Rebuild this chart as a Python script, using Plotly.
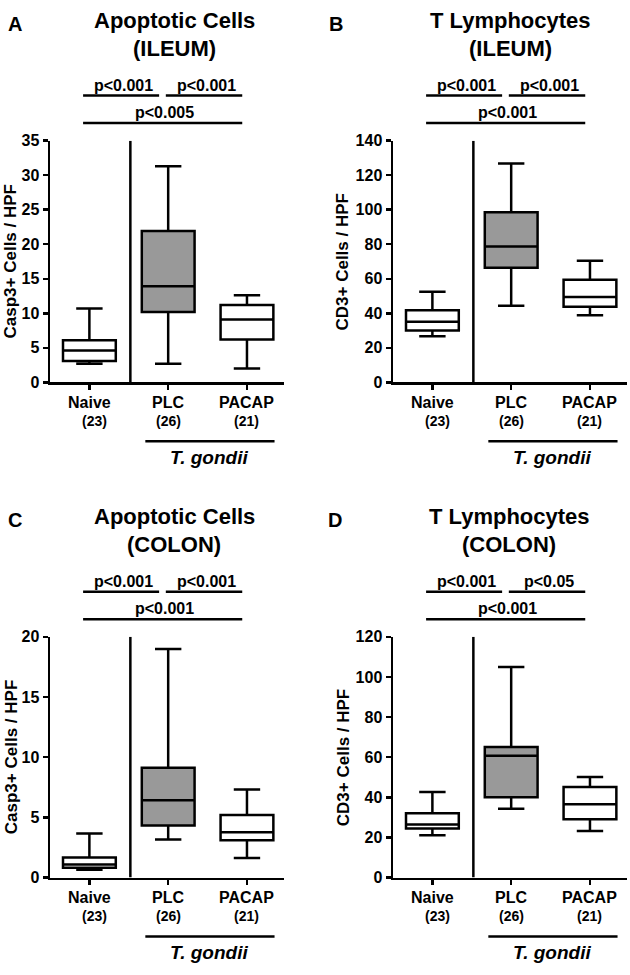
import plotly.graph_objects as go

# ---------------- data ----------------
categories = ["Naive", "PLC", "PACAP"]
group_sizes = ["(23)", "(26)", "(21)"]
x_pos = [0, 1, 2]
box_fill = ["white", "#999999", "white"]

# Panel A: Apoptotic cells (ileum)
a_low = [2.7, 2.7, 2.0]
a_q1 = [3.1, 10.2, 6.2]
a_med = [4.6, 13.9, 9.1]
a_q3 = [6.1, 21.9, 11.2]
a_high = [10.7, 31.3, 12.6]
a_p = ["p<0.001", "p<0.001", "p<0.005"]

# Panel B: T lymphocytes (ileum)
b_low = [26.7, 44.4, 38.9]
b_q1 = [30.0, 66.4, 43.8]
b_med = [35.1, 78.7, 49.5]
b_q3 = [41.7, 98.6, 59.4]
b_high = [52.5, 126.7, 70.4]
b_p = ["p<0.001", "p<0.001", "p<0.001"]

# Panel C: Apoptotic cells (colon)
c_low = [0.65, 3.16, 1.63]
c_q1 = [0.82, 4.33, 3.1]
c_med = [1.09, 6.42, 3.76]
c_q3 = [1.66, 9.12, 5.2]
c_high = [3.67, 19.0, 7.32]
c_p = ["p<0.001", "p<0.001", "p<0.001"]

# Panel D: T lymphocytes (colon)
d_low = [21.1, 34.3, 23.2]
d_q1 = [24.5, 40.0, 29.1]
d_med = [26.4, 60.7, 36.6]
d_q3 = [32.0, 65.1, 45.1]
d_high = [42.6, 105.0, 50.1]
d_p = ["p<0.001", "p<0.05", "p<0.001"]

# ---------------- layout helpers ----------------
W, H = 630, 975
FONT = "Liberation Sans, Arial, sans-serif"
LW = 2.5


def px(x):
    return x / W


def py(y):
    return 1 - y / H


panels = [
    dict(letter="A", t1="Apoptotic Cells", t2="(ILEUM)", ytitle="Casp3+ Cells / HPF",
         ymax=35, dtick=5, stats=(a_low, a_q1, a_med, a_q3, a_high), p=a_p,
         ax="", left=50, right=284, top=135, bottom=381, lx=15, tx=174, ytx=11),
    dict(letter="B", t1="T Lymphocytes", t2="(ILEUM)", ytitle="CD3+ Cells / HPF",
         ymax=140, dtick=20, stats=(b_low, b_q1, b_med, b_q3, b_high), p=b_p,
         ax="2", left=393, right=627, top=135, bottom=381, lx=336, tx=510, ytx=343),
    dict(letter="C", t1="Apoptotic Cells", t2="(COLON)", ytitle="Casp3+ Cells / HPF",
         ymax=20, dtick=5, stats=(c_low, c_q1, c_med, c_q3, c_high), p=c_p,
         ax="3", left=50, right=284, top=640, bottom=885, lx=15, tx=174, ytx=11),
    dict(letter="D", t1="T Lymphocytes", t2="(COLON)", ytitle="CD3+ Cells / HPF",
         ymax=120, dtick=20, stats=(d_low, d_q1, d_med, d_q3, d_high), p=d_p,
         ax="4", left=393, right=627, top=640, bottom=885, lx=335, tx=509, ytx=343),
]

fig = go.Figure()
annotations = []
shapes = []
layout_axes = {}

for pn in panels:
    ax = pn["ax"]
    xref = "x" + ax
    yref = "y" + ax
    low, q1, med, q3, high = pn["stats"]
    for i in range(3):
        fig.add_trace(go.Box(
            x=[x_pos[i]], q1=[q1[i]], median=[med[i]], q3=[q3[i]],
            lowerfence=[low[i]], upperfence=[high[i]],
            width=0.67, whiskerwidth=0.5, boxpoints=False,
            fillcolor=box_fill[i], line=dict(color="black", width=LW),
            xaxis=xref, yaxis=yref, showlegend=False, hoverinfo="skip",
        ))

    layout_axes["xaxis" + ax] = dict(
        domain=[px(pn["left"]), px(pn["right"])], anchor=yref,
        range=[-0.5, 2.47], tickvals=x_pos, ticktext=["", "", ""],
        ticks="outside", ticklen=5, tickwidth=LW, tickcolor="black",
        showline=True, linecolor="black", linewidth=LW,
        showgrid=False, zeroline=False, fixedrange=True,
    )
    layout_axes["yaxis" + ax] = dict(
        domain=[py(pn["bottom"]), py(pn["top"])], anchor=xref,
        range=[0, pn["ymax"]], dtick=pn["dtick"], tick0=0,
        ticks="outside", ticklen=5, tickwidth=LW, tickcolor="black",
        showline=True, linecolor="black", linewidth=LW,
        showgrid=False, zeroline=False, fixedrange=True,
        tickfont=dict(family=FONT, size=16, color="black", weight="bold"),
    )

    # divider between naive and infected groups
    shapes.append(dict(type="line", xref=xref, yref=yref, x0=0.52, x1=0.52,
                       y0=0, y1=pn["ymax"], line=dict(color="black", width=LW)))

    T, B = pn["top"], pn["bottom"]
    # significance bars
    bars = [(-0.08, 0.885, T - 46), (0.97, 1.94, T - 46), (-0.08, 1.94, T - 18)]
    for x0, x1, yy in bars:
        shapes.append(dict(type="line", xref=xref, yref="paper", x0=x0, x1=x1,
                           y0=py(yy), y1=py(yy), line=dict(color="black", width=LW)))
    ptexts = [(0.43, T - 56, pn["p"][0]), (1.48, T - 56, pn["p"][1]), (0.95, T - 29, pn["p"][2])]
    for xx, yy, txt in ptexts:
        annotations.append(dict(text=txt, xref=xref, yref="paper", x=xx, y=py(yy),
                                showarrow=False, xanchor="center", yanchor="middle",
                                font=dict(family=FONT, size=16, color="black", weight="bold")))

    # titles
    annotations.append(dict(text=pn["t1"], xref="paper", yref="paper", x=px(pn["tx"]), y=py(T - 122),
                            showarrow=False, xanchor="center", yanchor="middle",
                            font=dict(family=FONT, size=22, color="black", weight="bold")))
    annotations.append(dict(text=pn["t2"], xref="paper", yref="paper", x=px(pn["tx"]), y=py(T - 94),
                            showarrow=False, xanchor="center", yanchor="middle",
                            font=dict(family=FONT, size=22, color="black", weight="bold")))
    annotations.append(dict(text=pn["letter"], xref="paper", yref="paper", x=px(pn["lx"]), y=py(T - 119),
                            showarrow=False, xanchor="center", yanchor="middle",
                            font=dict(family=FONT, size=20, color="black", weight="bold")))
    # y title
    annotations.append(dict(text=pn["ytitle"], xref="paper", yref="paper", x=px(pn["ytx"]),
                            y=py((T + B) / 2), textangle=-90,
                            showarrow=False, xanchor="center", yanchor="middle",
                            font=dict(family=FONT, size=17, color="black", weight="bold")))

    # category labels
    n_off = [0.06, 0.0, 0.0]
    for i in range(3):
        annotations.append(dict(text=categories[i], xref=xref, yref="paper", x=x_pos[i], y=py(B + 20),
                                showarrow=False, xanchor="center", yanchor="middle",
                                font=dict(family=FONT, size=16, color="black", weight="bold")))
        annotations.append(dict(text=group_sizes[i], xref=xref, yref="paper", x=x_pos[i] + n_off[i],
                                y=py(B + 39), showarrow=False, xanchor="center", yanchor="middle",
                                font=dict(family=FONT, size=14, color="black", weight="bold")))
    # T. gondii group
    shapes.append(dict(type="line", xref=xref, yref="paper", x0=0.71, x1=2.35,
                       y0=py(B + 60), y1=py(B + 60), line=dict(color="black", width=LW)))
    annotations.append(dict(text="<i>T. gondii</i>", xref=xref, yref="paper", x=1.52, y=py(B + 76),
                            showarrow=False, xanchor="center", yanchor="middle",
                            font=dict(family=FONT, size=19, color="black", weight="bold")))

fig.update_layout(
    width=W, height=H,
    margin=dict(l=0, r=0, t=0, b=0),
    paper_bgcolor="white", plot_bgcolor="white",
    showlegend=False, hovermode=False,
    annotations=annotations, shapes=shapes,
    **layout_axes,
)

fig.write_html("out.html",
               config={"displayModeBar": False, "staticPlot": True},
               post_script="document.body.style.margin='0px';document.body.style.overflow='hidden';")
